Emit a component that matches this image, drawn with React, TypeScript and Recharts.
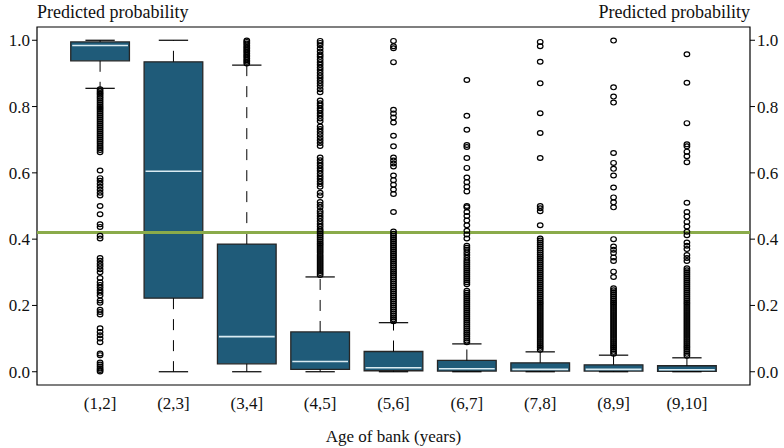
import React from 'react';
import { ComposedChart, XAxis, YAxis, Scatter, ReferenceArea, ReferenceLine } from 'recharts';

// Age groups on the x axis
const ageGroups = ['(1,2]', '(2,3]', '(3,4]', '(4,5]', '(5,6]', '(6,7]', '(7,8]', '(8,9]', '(9,10]'];

// Five-number summaries per age group
const lowerWhisker = [0.855, 0.0, 0.0, 0.0, 0.0, 0.0, 0.0, 0.0, 0.0];
const lowerHinge = [0.938, 0.222, 0.024, 0.007, 0.003, 0.002, 0.002, 0.002, 0.001];
const medians = [0.984, 0.605, 0.106, 0.031, 0.012, 0.009, 0.007, 0.007, 0.006];
const upperHinge = [0.995, 0.935, 0.385, 0.12, 0.061, 0.034, 0.027, 0.021, 0.018];
const upperWhisker = [1.0, 1.0, 0.925, 0.286, 0.148, 0.084, 0.06, 0.05, 0.042];

// Outlying predictions per age group
const outliers12 = [
  0.852, 0.846, 0.841, 0.836, 0.83, 0.825, 0.819, 0.813, 0.807, 0.801, 0.796, 0.79, 0.784, 0.778, 0.772,
  0.766, 0.76, 0.754, 0.748, 0.742, 0.736, 0.73, 0.724, 0.718, 0.712, 0.706, 0.7, 0.694, 0.688, 0.681,
  0.675, 0.669, 0.662, 0.607, 0.584, 0.576, 0.567, 0.558, 0.549, 0.54, 0.532, 0.5, 0.475, 0.445, 0.437,
  0.41, 0.402, 0.343, 0.335, 0.326, 0.318, 0.309, 0.3, 0.283, 0.27, 0.262, 0.254, 0.246, 0.238, 0.23,
  0.215, 0.208, 0.187, 0.18, 0.173, 0.131, 0.12, 0.11, 0.1, 0.089, 0.055, 0.05, 0.028, 0.022, 0.016,
  0.01, 0.005, 0.001,
];
const outliers23: number[] = [];
const outliers34 = [
  0.999, 0.995, 0.99, 0.985, 0.98, 0.975, 0.97, 0.965, 0.96, 0.955, 0.95, 0.945, 0.94, 0.935, 0.93,
];
const outliers45 = [
  0.998, 0.992, 0.985, 0.975, 0.966, 0.957, 0.95, 0.942, 0.934, 0.926, 0.918, 0.91, 0.902, 0.894, 0.886,
  0.878, 0.87, 0.862, 0.852, 0.843, 0.818, 0.81, 0.803, 0.795, 0.788, 0.78, 0.772, 0.764, 0.756, 0.74,
  0.732, 0.724, 0.716, 0.707, 0.698, 0.69, 0.681, 0.646, 0.638, 0.63, 0.622, 0.614, 0.606, 0.598, 0.59,
  0.582, 0.574, 0.566, 0.558, 0.54, 0.532, 0.512, 0.504, 0.496, 0.485, 0.478, 0.47, 0.462, 0.454, 0.446,
  0.438, 0.43, 0.424, 0.418, 0.412, 0.406, 0.4, 0.394, 0.388, 0.382, 0.376, 0.37, 0.364, 0.358, 0.352,
  0.346, 0.34, 0.334, 0.328, 0.322, 0.316, 0.31, 0.304, 0.298, 0.292,
];
const outliers56 = [
  0.998, 0.982, 0.976, 0.934, 0.79, 0.779, 0.767, 0.752, 0.712, 0.68, 0.646, 0.637, 0.628, 0.619, 0.592,
  0.578, 0.564, 0.55, 0.536, 0.482, 0.423, 0.416, 0.41, 0.404, 0.398, 0.392, 0.386, 0.38, 0.374, 0.368,
  0.362, 0.356, 0.35, 0.344, 0.338, 0.332, 0.326, 0.32, 0.314, 0.308, 0.302, 0.296, 0.29, 0.284, 0.278,
  0.272, 0.266, 0.26, 0.254, 0.248, 0.242, 0.236, 0.23, 0.224, 0.218, 0.212, 0.206, 0.2, 0.194, 0.188,
  0.182, 0.176, 0.17, 0.164, 0.158, 0.152,
];
const outliers67 = [
  0.88, 0.772, 0.73, 0.684, 0.678, 0.645, 0.615, 0.586, 0.572, 0.558, 0.544, 0.5, 0.496, 0.482, 0.47,
  0.456, 0.442, 0.425, 0.414, 0.402, 0.38, 0.374, 0.368, 0.36, 0.352, 0.344, 0.336, 0.33, 0.324, 0.318,
  0.312, 0.306, 0.3, 0.294, 0.288, 0.282, 0.276, 0.27, 0.264, 0.244, 0.238, 0.232, 0.226, 0.22, 0.214,
  0.208, 0.202, 0.196, 0.19, 0.184, 0.178, 0.172, 0.166, 0.16, 0.154, 0.148, 0.142, 0.136, 0.13, 0.124,
  0.118, 0.112, 0.106, 0.1, 0.094, 0.089,
];
const outliers78 = [
  0.995, 0.982, 0.935, 0.87, 0.78, 0.72, 0.645, 0.5, 0.493, 0.484, 0.442, 0.402, 0.396, 0.39, 0.384,
  0.378, 0.372, 0.366, 0.36, 0.354, 0.348, 0.342, 0.336, 0.33, 0.324, 0.318, 0.312, 0.306, 0.3, 0.294,
  0.288, 0.282, 0.276, 0.27, 0.264, 0.258, 0.252, 0.246, 0.24, 0.234, 0.228, 0.222, 0.216, 0.21, 0.204,
  0.198, 0.192, 0.186, 0.18, 0.174, 0.168, 0.162, 0.156, 0.15, 0.144, 0.138, 0.132, 0.126, 0.12, 0.114,
  0.108, 0.102, 0.096, 0.09, 0.084, 0.078, 0.072, 0.066,
];
const outliers89 = [
  0.999, 0.858, 0.83, 0.812, 0.66, 0.63, 0.612, 0.592, 0.556, 0.526, 0.511, 0.496, 0.4, 0.378, 0.368,
  0.358, 0.345, 0.334, 0.302, 0.286, 0.252, 0.246, 0.24, 0.234, 0.228, 0.222, 0.216, 0.21, 0.204, 0.198,
  0.192, 0.186, 0.18, 0.174, 0.168, 0.162, 0.156, 0.15, 0.144, 0.138, 0.132, 0.126, 0.12, 0.114, 0.108,
  0.102, 0.096, 0.09, 0.084, 0.078, 0.072, 0.066, 0.06, 0.054,
];
const outliers910 = [
  0.958, 0.872, 0.75, 0.686, 0.68, 0.664, 0.65, 0.632, 0.51, 0.482, 0.468, 0.452, 0.438, 0.422, 0.412,
  0.39, 0.38, 0.37, 0.352, 0.343, 0.334, 0.312, 0.306, 0.3, 0.294, 0.288, 0.282, 0.276, 0.27, 0.264,
  0.258, 0.252, 0.246, 0.24, 0.234, 0.228, 0.222, 0.216, 0.21, 0.204, 0.198, 0.192, 0.186, 0.18, 0.174,
  0.168, 0.162, 0.156, 0.15, 0.144, 0.138, 0.132, 0.126, 0.12, 0.114, 0.108, 0.102, 0.096, 0.09, 0.084,
  0.078, 0.072, 0.066, 0.06, 0.054, 0.048,
];

const outlierGroups = [
  outliers12, outliers23, outliers34, outliers45, outliers56, outliers67, outliers78, outliers89, outliers910,
];

// Cut-off shown as a horizontal line
const threshold = 0.42;

const probTicks = [0, 0.2, 0.4, 0.6, 0.8, 1.0];
const groupTicks = [1, 2, 3, 4, 5, 6, 7, 8, 9];

const outlierPoints = outlierGroups.flatMap((vals, i) => vals.map((v) => ({ x: i + 1, y: v })));

const FONT = '"Liberation Serif", "DejaVu Serif", serif';
const BOX_FILL = '#1f5b79';
const BOX_EDGE = '#262626';
const BOX_HALF = 0.4;
const CAP_HALF = 0.2;

const OpenCircle = (props: any) => {
  const { cx, cy } = props;
  if (cx == null || cy == null) return null;
  return <ellipse cx={cx} cy={cy} rx={2.8} ry={2.4} fill="none" stroke="#000" strokeWidth={1.2} />;
};

const tickStyle = { fontFamily: FONT, fontSize: 17, fill: '#111' };

export default function App() {
  const boxes = ageGroups.map((g, i) => (
    <ReferenceArea
      key={`box-${g}`}
      yAxisId="l"
      x1={i + 1 - BOX_HALF}
      x2={i + 1 + BOX_HALF}
      y1={lowerHinge[i]}
      y2={upperHinge[i]}
      fill={BOX_FILL}
      fillOpacity={1}
      stroke={BOX_EDGE}
      strokeWidth={1.3}
      ifOverflow="visible"
    />
  ));
  const upperWhiskers = ageGroups.map((g, i) => (
    <ReferenceLine
      key={`uw-${g}`}
      yAxisId="l"
      segment={[{ x: i + 1, y: upperHinge[i] }, { x: i + 1, y: upperWhisker[i] }]}
      stroke="#000"
      strokeWidth={1}
      strokeDasharray="11 10"
      ifOverflow="visible"
    />
  ));
  const lowerWhiskers = ageGroups.map((g, i) => (
    <ReferenceLine
      key={`lw-${g}`}
      yAxisId="l"
      segment={[{ x: i + 1, y: lowerHinge[i] }, { x: i + 1, y: lowerWhisker[i] }]}
      stroke="#000"
      strokeWidth={1}
      strokeDasharray="11 10"
      ifOverflow="visible"
    />
  ));
  const upperCaps = ageGroups.map((g, i) => (
    <ReferenceLine
      key={`uc-${g}`}
      yAxisId="l"
      segment={[{ x: i + 1 - CAP_HALF, y: upperWhisker[i] }, { x: i + 1 + CAP_HALF, y: upperWhisker[i] }]}
      stroke="#000"
      strokeWidth={1.2}
      ifOverflow="visible"
    />
  ));
  const lowerCaps = ageGroups.map((g, i) => (
    <ReferenceLine
      key={`lc-${g}`}
      yAxisId="l"
      segment={[{ x: i + 1 - CAP_HALF, y: lowerWhisker[i] }, { x: i + 1 + CAP_HALF, y: lowerWhisker[i] }]}
      stroke="#000"
      strokeWidth={1.2}
      ifOverflow="visible"
    />
  ));
  const medianLines = ageGroups.map((g, i) => (
    <ReferenceLine
      key={`md-${g}`}
      yAxisId="l"
      segment={[{ x: i + 1 - BOX_HALF + 0.02, y: medians[i] }, { x: i + 1 + BOX_HALF - 0.02, y: medians[i] }]}
      stroke="#d9ebf2"
      strokeWidth={1.6}
      ifOverflow="visible"
    />
  ));

  return (
    <div style={{ position: 'absolute', left: 0, top: 0, width: 784, height: 448, background: '#fff' }}>
      <div
        style={{
          position: 'absolute', left: 37, top: 3, fontFamily: FONT, fontSize: 18, lineHeight: 1, color: '#111',
          whiteSpace: 'nowrap',
        }}
      >
        Predicted probability
      </div>
      <div
        style={{
          position: 'absolute', right: 34, top: 3, fontFamily: FONT, fontSize: 18, lineHeight: 1, color: '#111',
          whiteSpace: 'nowrap', textAlign: 'right',
        }}
      >
        Predicted probability
      </div>
      <ComposedChart width={784} height={448} margin={{ top: 27, right: 0, bottom: 3, left: 0 }}>
        <XAxis
          type="number"
          dataKey="x"
          domain={[0.14, 9.86]}
          allowDataOverflow
          ticks={groupTicks}
          tickFormatter={(v: number) => ageGroups[v - 1] ?? ''}
          axisLine={false}
          tickLine={false}
          tickSize={0}
          tickMargin={12}
          height={60}
          tick={tickStyle}
          interval={0}
          label={{ value: 'Age of bank (years)', position: 'insideBottom', offset: 3, style: { ...tickStyle } }}
        />
        <YAxis
          yAxisId="l"
          type="number"
          domain={[-0.04, 1.04]}
          allowDataOverflow
          ticks={probTicks}
          tickFormatter={(v: number) => v.toFixed(1)}
          width={37}
          axisLine={false}
          tickLine={{ stroke: '#000' }}
          tickSize={5}
          tickMargin={2}
          tick={tickStyle}
          interval={0}
        />
        <YAxis
          yAxisId="r"
          orientation="right"
          type="number"
          domain={[-0.04, 1.04]}
          allowDataOverflow
          ticks={probTicks}
          tickFormatter={(v: number) => v.toFixed(1)}
          width={34}
          axisLine={false}
          tickLine={{ stroke: '#000' }}
          tickSize={5}
          tickMargin={2}
          tick={tickStyle}
          interval={0}
        />
        <Scatter
          yAxisId="l"
          data={outlierPoints}
          dataKey="y"
          shape={<OpenCircle />}
          isAnimationActive={false}
        />
        {upperWhiskers}
        {lowerWhiskers}
        {upperCaps}
        {lowerCaps}
        {boxes}
        {medianLines}
        <ReferenceLine yAxisId="l" y={threshold} stroke="#8aab4a" strokeWidth={3} />
        <ReferenceArea
          yAxisId="l"
          x1={0.14}
          x2={9.86}
          y1={-0.04}
          y2={1.04}
          fill="none"
          fillOpacity={0}
          stroke="#000"
          strokeWidth={1.2}
          ifOverflow="visible"
        />
      </ComposedChart>
    </div>
  );
}
